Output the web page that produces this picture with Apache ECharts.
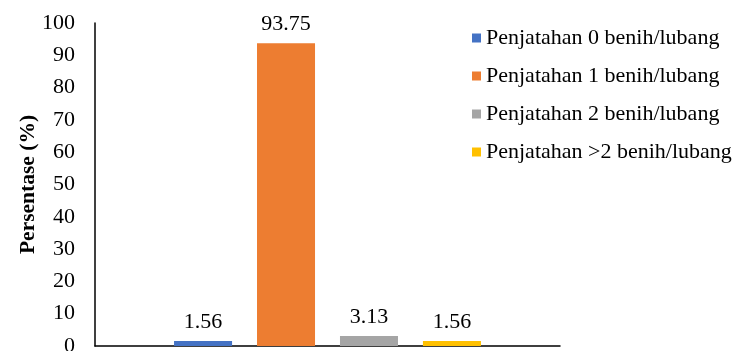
<!DOCTYPE html>
<html>
<head>
<meta charset="utf-8">
<script src="https://cdn.jsdelivr.net/npm/echarts@6/dist/echarts.min.js"></script>
<style>
  html, body { margin: 0; padding: 0; background: #fff; }
  #chart { width: 738px; height: 351px; }
</style>
</head>
<body>
<div id="chart"></div>
<script>
// Seed allocation per planting hole, share of holes (%)
const seriesNames = [
  'Penjatahan 0 benih/lubang',
  'Penjatahan 1 benih/lubang',
  'Penjatahan 2 benih/lubang',
  'Penjatahan >2 benih/lubang'
];
const seriesValues = [1.56, 93.75, 3.13, 1.56];
const seriesColors = ['#4472C4', '#ED7D31', '#A5A5A5', '#FFC000'];
const categories = [''];
const yTicks = { min: 0, max: 100, interval: 10 };

const font = 'Liberation Serif, Times New Roman, serif';

const chart = echarts.init(document.getElementById('chart'));
chart.setOption({
  animation: false,
  textStyle: { fontFamily: font },
  grid: {
    left: 95, right: 178, top: 23, bottom: 5,
    containLabel: false,
    outerBoundsMode: 'none'
  },
  legend: {
    orient: 'vertical',
    left: 467,
    top: 22,
    itemWidth: 9,
    itemHeight: 9,
    itemGap: 16,
    icon: 'rect',
    textStyle: { fontFamily: font, fontSize: 22, color: '#000' },
    data: seriesNames
  },
  xAxis: {
    type: 'category',
    data: categories,
    axisLine: { lineStyle: { color: '#000', width: 1.5 } },
    axisTick: { show: false },
    axisLabel: { show: false },
    splitLine: { show: false }
  },
  yAxis: {
    type: 'value',
    min: yTicks.min,
    max: yTicks.max,
    interval: yTicks.interval,
    name: 'Persentase (%)',
    nameLocation: 'middle',
    nameGap: 56,
    nameMoveOverlap: false,
    nameTextStyle: { fontFamily: font, fontSize: 21.5, fontWeight: 'bold', color: '#000' },
    axisLine: { show: true, lineStyle: { color: '#000', width: 1.5 } },
    axisTick: { show: false },
    axisLabel: { fontFamily: font, fontSize: 22, color: '#000', margin: 20 },
    splitLine: { show: false }
  },
  series: seriesNames.map((name, i) => ({
    name,
    type: 'bar',
    data: [seriesValues[i]],
    barGap: '43%',
    barCategoryGap: '34%',
    itemStyle: { color: seriesColors[i] },
    label: {
      show: true,
      position: 'top',
      distance: 8,
      fontFamily: font,
      fontSize: 22,
      color: '#000',
      formatter: (p) => p.value.toFixed(2)
    }
  }))
});
</script>
</body>
</html>
